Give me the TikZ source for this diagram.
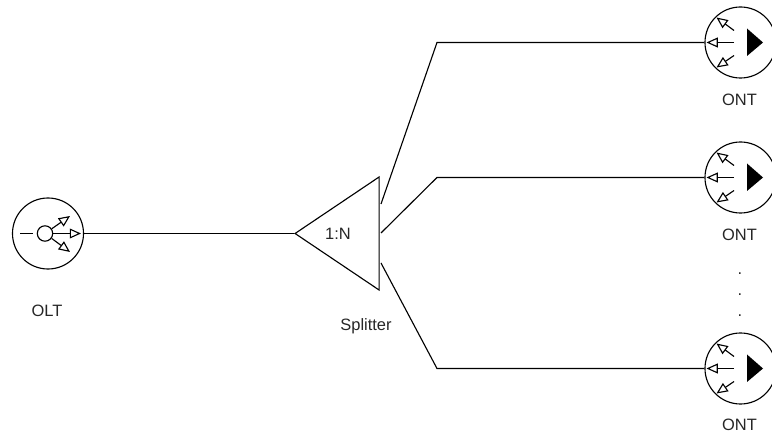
\documentclass[tikz,border=0pt]{standalone}
\usepackage{fontspec}
\setmainfont{Liberation Sans}
\usetikzlibrary{arrows.meta}
\usetikzlibrary{shapes.geometric}
\tikzset{port/.style = {draw, circle, inner sep = 0, minimum size = 1.775cm}}
\tikzset{sig/.style = {-{Triangle[open, length = 8pt, width = 7pt]}}}
\tikzset{lbl/.style = {font = \fontsize{11.7pt}{14pt}\selectfont, text = black!85, inner sep = 0}}

\begin{document}
\begin{tikzpicture}[x=0.025cm, y=-0.025cm, line width=0.8pt]
    \useasboundingbox (0, 0) rectangle (772, 432);

    % OLT
    \begin{scope}[shift={(48, 233.5)}]
      \node (olt) [port] at (0, 0) {};
      \node (pd) [draw, circle, inner sep = 0, minimum size = 0.385cm] at (-3, 0) {};
      \coordinate (dashstart) at (-28, 0);
      \coordinate (dashend) at (-15, 0);
      \draw (dashstart) -- (dashend);
      \draw [sig] (pd) -- (33, 0);
      \draw [sig] (pd) -- (22, -17.5);
      \draw [sig] (pd) -- (22, 18.5);
      \node (oltlabel) [lbl] at (-1, 77) {OLT};
    \end{scope}

    % splitter
    \node (splitter) [draw, isosceles triangle, isosceles triangle apex angle = 67.8, isosceles triangle stretches, shape border rotate = 180, inner sep = 0, minimum width = 2.825cm, minimum height = 2.1cm] at (349, 233.5) {};
    \node (ratio) [lbl] at (338, 233.5) {1:N};
    \node (splitterlabel) [lbl] at (366, 326) {Splitter};
    \draw (olt.east) -- (splitter.apex);

    % ONT, top
    \begin{scope}[shift={(740.5, 42.5)}]
      \node (ont1) [port] at (0, 0) {};
      \draw [sig] (-6.5, 0) -- (-34, 0);
      \draw [sig] (-6.5, -12) -- (-24, -25);
      \draw [sig] (-6.5, 13) -- (-24, 25);
      \fill (6.5, -14) -- (22.5, 0) -- (6.5, 13.5) -- cycle;
      \node (ontlabel1) [lbl] at (-1, 57) {ONT};
    \end{scope}

    % ONT, middle
    \begin{scope}[shift={(740.5, 177.5)}]
      \node (ont2) [port] at (0, 0) {};
      \draw [sig] (-6.5, 0) -- (-34, 0);
      \draw [sig] (-6.5, -12) -- (-24, -25);
      \draw [sig] (-6.5, 13) -- (-24, 25);
      \fill (6.5, -14) -- (22.5, 0) -- (6.5, 13.5) -- cycle;
      \node (ontlabel2) [lbl] at (-1, 57) {ONT};
    \end{scope}

    % ONT, bottom
    \begin{scope}[shift={(740.5, 368.5)}]
      \node (ont3) [port] at (0, 0) {};
      \draw [sig] (-6.5, 0) -- (-34, 0);
      \draw [sig] (-6.5, -12) -- (-24, -25);
      \draw [sig] (-6.5, 13) -- (-24, 25);
      \fill (6.5, -14) -- (22.5, 0) -- (6.5, 13.5) -- cycle;
      \node (ontlabel3) [lbl] at (-1, 56) {ONT};
    \end{scope}

    % dots between the lower two
    \node (dot1) [lbl] at (740, 274) {.};
    \node (dot2) [lbl] at (740, 295) {.};
    \node (dot3) [lbl] at (740, 316) {.};

    % fibres
    \coordinate (out1) at (381, 204);
    \coordinate (out2) at (381, 233);
    \coordinate (out3) at (381, 263);
    \draw (out1) -- (437, 42.5) -- (ont1.west);
    \draw (out2) -- (437, 177.5) -- (ont2.west);
    \draw (out3) -- (437, 368.5) -- (ont3.west);
  \end{tikzpicture}
\end{document}
